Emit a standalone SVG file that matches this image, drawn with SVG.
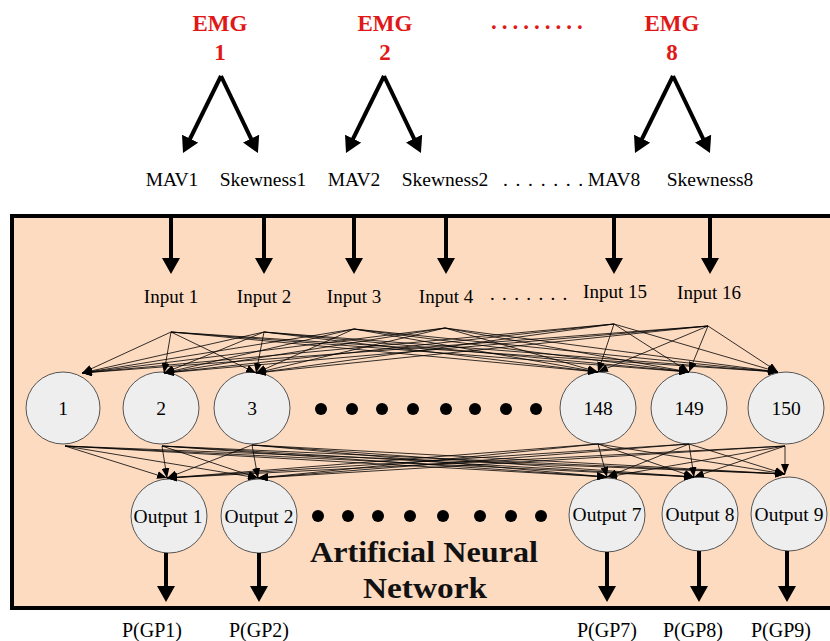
<svg xmlns="http://www.w3.org/2000/svg" width="830" height="641" viewBox="0 0 830 641">
<style>
.t{font-family:"Liberation Serif","Times New Roman",serif;fill:#000;text-anchor:middle}
.f{font-size:19.5px}
.emg{font-family:"Liberation Serif","Times New Roman",serif;font-weight:bold;font-size:23px;fill:#E01818;text-anchor:middle}
.ann{font-family:"Liberation Serif","Times New Roman",serif;font-weight:bold;font-size:30px;fill:#111;text-anchor:middle}
.node{fill:#EEEEEE;stroke:#555;stroke-width:1}
.thin{stroke:#000;stroke-width:0.8;fill:none;marker-end:url(#ah)}
.thick{stroke:#000;stroke-width:4;fill:none;marker-end:url(#AH)}
.dot{fill:#000}
</style>
<defs>
<marker id="ah" markerUnits="userSpaceOnUse" markerWidth="11" markerHeight="8" refX="10" refY="4" orient="auto">
<path d="M0,0 L10,4 L0,8 z" fill="#000"/>
</marker>
<marker id="AH" markerUnits="userSpaceOnUse" markerWidth="17" markerHeight="18" refX="2" refY="9" orient="auto">
<path d="M0,0 L16,9 L0,18 z" fill="#000"/>
</marker>
</defs>
<rect x="0" y="0" width="830" height="641" fill="#fff"/>
<rect id="ann-box" x="12" y="216" width="830" height="392" fill="#FDDBC1" stroke="#000" stroke-width="4"/>

<g id="emg1"><text class="emg" x="220" y="31">EMG</text><text class="emg" x="220" y="60">1</text></g>
<g id="emg2"><text class="emg" x="385" y="31">EMG</text><text class="emg" x="385" y="60">2</text></g>
<g id="emg8"><text class="emg" x="672" y="31">EMG</text><text class="emg" x="672" y="60">8</text></g>
<text class="emg" x="491" y="29" style="text-anchor:start;letter-spacing:5px">.........</text>

<g id="features">
<text class="t f" x="172" y="186">MAV1</text>
<text class="t f" x="263" y="186">Skewness1</text>
<text class="t f" x="354" y="186">MAV2</text>
<text class="t f" x="445" y="186">Skewness2</text>
<text class="t f" x="503" y="186" style="text-anchor:start;letter-spacing:1.4px">. . . . . . .</text>
<text class="t f" x="614" y="186">MAV8</text>
<text class="t f" x="710" y="186">Skewness8</text>
</g>

<g id="inputs">
<g id="in1"><text class="t" font-size="19" x="171" y="303">Input 1</text></g>
<g id="in2"><text class="t" font-size="19" x="264" y="303">Input 2</text></g>
<g id="in3"><text class="t" font-size="19" x="354" y="303">Input 3</text></g>
<g id="in4"><text class="t" font-size="19" x="446" y="303">Input 4</text></g>
<text class="t" font-size="19" x="490" y="300" style="text-anchor:start;letter-spacing:1.3px">. . . . . . .</text>
<g id="in15"><text class="t" font-size="19" x="615" y="298">Input 15</text></g>
<g id="in16"><text class="t" font-size="19" x="709" y="299">Input 16</text></g>
</g>

<g id="hidden">
<g id="h1"><ellipse class="node" cx="63" cy="408" rx="37" ry="36"/><text class="t f" x="63" y="415">1</text></g>
<g id="h2"><ellipse class="node" cx="161" cy="408" rx="38" ry="36"/><text class="t f" x="161" y="415">2</text></g>
<g id="h3"><ellipse class="node" cx="252" cy="408" rx="38" ry="36"/><text class="t f" x="252" y="415">3</text></g>
<g id="h148"><ellipse class="node" cx="598" cy="408" rx="38" ry="36"/><text class="t f" x="598" y="415">148</text></g>
<g id="h149"><ellipse class="node" cx="689" cy="408" rx="38" ry="36"/><text class="t f" x="689" y="415">149</text></g>
<g id="h150"><ellipse class="node" cx="786" cy="408" rx="38" ry="36"/><text class="t f" x="786" y="415">150</text></g>
</g>
<g id="hidden-dots">
<circle class="dot" cx="321" cy="409" r="6"/><circle class="dot" cx="352" cy="409" r="6"/><circle class="dot" cx="382" cy="409" r="6"/><circle class="dot" cx="413" cy="409" r="6"/>
<circle class="dot" cx="446" cy="409" r="6"/><circle class="dot" cx="475" cy="409" r="6"/><circle class="dot" cx="506" cy="409" r="6"/><circle class="dot" cx="536" cy="409" r="6"/>
</g>

<g id="outputs">
<g id="o1"><ellipse class="node" cx="169" cy="516" rx="38" ry="37"/><text class="t f" x="168" y="523">Output 1</text></g>
<g id="o2"><ellipse class="node" cx="259" cy="516" rx="38" ry="37"/><text class="t f" x="259" y="523">Output 2</text></g>
<g id="o7"><ellipse class="node" cx="607" cy="515" rx="38" ry="37"/><text class="t f" x="607" y="521">Output 7</text></g>
<g id="o8"><ellipse class="node" cx="700" cy="514" rx="38" ry="37"/><text class="t f" x="700" y="521">Output 8</text></g>
<g id="o9"><ellipse class="node" cx="789" cy="514" rx="38" ry="37"/><text class="t f" x="789" y="521">Output 9</text></g>
</g>
<g id="output-dots">
<circle class="dot" cx="318" cy="516" r="6"/><circle class="dot" cx="348" cy="516" r="6"/><circle class="dot" cx="378" cy="516" r="6"/><circle class="dot" cx="410" cy="516" r="6"/>
<circle class="dot" cx="443" cy="516" r="6"/><circle class="dot" cx="480" cy="516" r="6"/><circle class="dot" cx="511" cy="516" r="6"/><circle class="dot" cx="541" cy="516" r="6"/>
</g>

<g id="ann-label">
<text class="ann" x="424" y="562" textLength="228" lengthAdjust="spacingAndGlyphs">Artificial Neural</text>
<text class="ann" x="425" y="598" textLength="124" lengthAdjust="spacingAndGlyphs">Network</text>
</g>

<g id="results">
<text class="t" font-size="20" x="152" y="637">P(GP1)</text>
<text class="t" font-size="20" x="259" y="637">P(GP2)</text>
<text class="t" font-size="20" x="607" y="637">P(GP7)</text>
<text class="t" font-size="20" x="693" y="637">P(GP8)</text>
<text class="t" font-size="20" x="781" y="637">P(GP9)</text>
</g>

<g id="connectors">
<line class="thick" x1="221" y1="76" x2="189.2" y2="140.5"/>
<line class="thick" x1="221" y1="76" x2="251.9" y2="140.4"/>
<line class="thick" x1="384" y1="76" x2="352.2" y2="140.5"/>
<line class="thick" x1="384" y1="76" x2="414.9" y2="140.4"/>
<line class="thick" x1="673" y1="76" x2="641.2" y2="140.5"/>
<line class="thick" x1="673" y1="76" x2="703.9" y2="140.4"/>

<line class="thick" x1="171" y1="216" x2="171" y2="260"/>
<line class="thick" x1="264" y1="216" x2="264" y2="260"/>
<line class="thick" x1="354" y1="216" x2="354" y2="260"/>
<line class="thick" x1="446" y1="216" x2="446" y2="260"/>
<line class="thick" x1="614" y1="216" x2="614" y2="260"/>
<line class="thick" x1="710" y1="216" x2="710" y2="260"/>

<line class="thick" x1="166" y1="553" x2="166" y2="588"/>
<line class="thick" x1="259" y1="553" x2="259" y2="588"/>
<line class="thick" x1="607" y1="552" x2="607" y2="588"/>
<line class="thick" x1="699" y1="551" x2="699" y2="588"/>
<line class="thick" x1="787" y1="551" x2="787" y2="588"/>

<path class="thin" d="M171,332 L82,373"/><path class="thin" d="M171,332 L164,373"/><path class="thin" d="M171,332 L256,373"/><path class="thin" d="M171,332 L598,372"/><path class="thin" d="M171,332 L689,372"/><path class="thin" d="M171,332 L778,372"/>
<path class="thin" d="M264,332 L82,373"/><path class="thin" d="M264,332 L164,373"/><path class="thin" d="M264,332 L256,373"/><path class="thin" d="M264,332 L598,372"/><path class="thin" d="M264,332 L689,372"/><path class="thin" d="M264,332 L778,372"/>
<path class="thin" d="M354,329 L82,373"/><path class="thin" d="M354,329 L164,373"/><path class="thin" d="M354,329 L256,373"/><path class="thin" d="M354,329 L598,372"/><path class="thin" d="M354,329 L689,372"/><path class="thin" d="M354,329 L778,372"/>
<path class="thin" d="M445,328 L82,373"/><path class="thin" d="M445,328 L164,373"/><path class="thin" d="M445,328 L256,373"/><path class="thin" d="M445,328 L598,372"/><path class="thin" d="M445,328 L689,372"/><path class="thin" d="M445,328 L778,372"/>
<path class="thin" d="M614,324 L82,373"/><path class="thin" d="M614,324 L164,373"/><path class="thin" d="M614,324 L256,373"/><path class="thin" d="M614,324 L598,372"/><path class="thin" d="M614,324 L689,372"/><path class="thin" d="M614,324 L778,372"/>
<path class="thin" d="M708,326 L82,373"/><path class="thin" d="M708,326 L164,373"/><path class="thin" d="M708,326 L256,373"/><path class="thin" d="M708,326 L598,372"/><path class="thin" d="M708,326 L689,372"/><path class="thin" d="M708,326 L778,372"/>

<path class="thin" d="M65,446 L167,478"/><path class="thin" d="M65,446 L258,478"/><path class="thin" d="M65,446 L607,477"/><path class="thin" d="M65,446 L694,477"/><path class="thin" d="M65,446 L785,474"/>
<path class="thin" d="M162,446 L167,478"/><path class="thin" d="M162,446 L258,478"/><path class="thin" d="M162,446 L607,477"/><path class="thin" d="M162,446 L694,477"/><path class="thin" d="M162,446 L785,474"/>
<path class="thin" d="M252,445 L167,478"/><path class="thin" d="M252,445 L258,478"/><path class="thin" d="M252,445 L607,477"/><path class="thin" d="M252,445 L694,477"/><path class="thin" d="M252,445 L785,474"/>
<path class="thin" d="M598,444 L167,478"/><path class="thin" d="M598,444 L258,478"/><path class="thin" d="M598,444 L607,477"/><path class="thin" d="M598,444 L694,477"/><path class="thin" d="M598,444 L785,474"/>
<path class="thin" d="M689,444 L167,478"/><path class="thin" d="M689,444 L258,478"/><path class="thin" d="M689,444 L607,477"/><path class="thin" d="M689,444 L694,477"/><path class="thin" d="M689,444 L785,474"/>
<path class="thin" d="M785,446 L167,478"/><path class="thin" d="M785,446 L258,478"/><path class="thin" d="M785,446 L607,477"/><path class="thin" d="M785,446 L694,477"/><path class="thin" d="M785,446 L785,474"/>
</g>
</svg>
